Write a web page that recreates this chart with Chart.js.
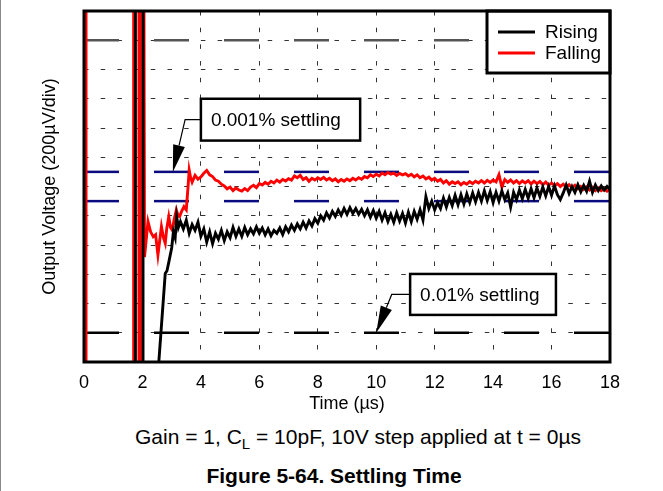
<!DOCTYPE html>
<html>
<head>
<meta charset="utf-8">
<script src="https://cdn.jsdelivr.net/npm/chart.js@4.4.1/dist/chart.umd.min.js"></script>
<style>
  body { margin: 0; background: #fff; }
  #page { position: relative; width: 663px; height: 491px; overflow: hidden; font-family: "Liberation Sans", Arial, sans-serif; color: #000; }
  #edge { position: absolute; left: 0; top: 0; width: 1px; height: 491px; background: #8a8a8a; }
  #chart { position: absolute; left: 0; top: 0; }
  #note { position: absolute; left: 0; width: 716px; top: 424px; text-align: center; font-size: 21px; line-height: 26px; }
  #note sub { font-size: 15px; vertical-align: -5px; line-height: 0; }
  #fig { position: absolute; left: 0; width: 668px; top: 463px; text-align: center; font-size: 21px; font-weight: bold; line-height: 26px; }
</style>
</head>
<body>
<div id="page">
  <div id="edge"></div>
  <canvas id="chart" width="663" height="420"></canvas>
  <div id="note">Gain = 1, C<sub>L</sub> = 10pF, 10V step applied at t = 0µs</div>
  <div id="fig">Figure 5-64. Settling Time</div>
</div>
<script>
// y is in divisions of 200µV, final value sits at 6
const sampleStep = 0.1;

// Rising: swings through the window, then climbs in from below
const risingHeadT = [0, 1.76, 1.76, 2.02, 2.02, 2.55, 2.56, 2.78, 2.84, 2.92, 3.0, 3.06, 3.12, 3.17, 3.23];
const risingHeadV = [-1, -1, 13, 13, -1, -1, 0, 3.03, 3.12, 3.5, 3.9, 4.45, 4.25, 4.97, 4.6];
const risingStart = 3.3;
const risingV = [
    4.80, 4.55, 4.85, 4.40, 4.70, 4.50, 4.78, 4.30, 4.55, 4.10,
    4.45, 4.05, 4.40, 4.20, 4.50, 4.15, 4.45, 4.25, 4.60, 4.30,
    4.55, 4.30, 4.60, 4.35, 4.55, 4.38, 4.62, 4.40, 4.58, 4.35,
    4.55, 4.32, 4.50, 4.40, 4.58, 4.36, 4.62, 4.45, 4.68, 4.50,
    4.72, 4.55, 4.78, 4.58, 4.82, 4.65, 4.90, 4.75, 5.00, 4.85,
    5.10, 4.92, 5.15, 4.98, 5.20, 5.02, 5.25, 5.05, 5.28, 5.08,
    5.25, 5.05, 5.22, 5.00, 5.20, 4.95, 5.18, 4.92, 5.15, 4.85,
    5.10, 4.80, 5.05, 4.78, 5.10, 4.82, 5.08, 4.75, 5.12, 4.80,
    5.15, 4.88, 5.20, 4.85, 5.65, 5.25, 5.50, 5.20, 5.45, 5.25,
    5.60, 5.30, 5.62, 5.35, 5.70, 5.38, 5.72, 5.40, 5.75, 5.45,
    5.78, 5.48, 5.80, 5.50, 5.85, 5.52, 5.82, 5.45, 5.80, 5.50,
    5.85, 5.55, 5.78, 5.30, 5.80, 5.55, 5.88, 5.58, 5.90, 5.60,
    5.92, 5.62, 5.95, 5.66, 5.98, 5.68, 6.00, 5.70, 6.02, 5.72,
    5.55, 5.78, 6.05, 5.76, 6.00, 5.80, 6.06, 5.82, 6.04, 5.84,
    6.18, 5.80, 6.05, 5.86, 6.02, 5.88, 6.00, 5.90
];

// Falling: drops at t=0, rings through the window, then settles from below
const fallingHeadT = [0, 0.07, 0.07, 1.70, 1.70, 1.88, 1.88, 1.93, 1.93, 2.05, 2.07, 2.19, 2.28, 2.37, 2.45, 2.53,
    2.65, 2.72, 2.78, 2.83, 2.90, 2.96, 3.02, 3.09, 3.16, 3.22, 3.27, 3.34, 3.42, 3.46, 3.50, 3.56, 3.60, 3.65];
const fallingHeadV = [13, 13, -1, -1, 13, 13, -1, -1, 13, 13, 3.59, 4.80, 4.45, 4.28, 4.35, 3.66,
    4.63, 4.25, 4.06, 4.55, 4.97, 4.60, 4.51, 4.90, 5.20, 5.00, 4.97, 5.15, 5.31, 5.25, 5.20, 5.99, 6.56, 6.30];
const fallingStart = 3.7;
const fallingV = [
    6.15, 6.38, 6.25, 6.33, 6.45, 6.55, 6.40, 6.34, 6.22, 6.18,
    6.08, 6.02, 5.92, 5.98, 5.86, 5.95, 5.88, 5.84, 5.93, 5.86,
    5.98, 6.04, 5.96, 6.10, 6.05, 6.14, 6.08, 6.18, 6.12, 6.22,
    6.15, 6.24, 6.19, 6.27, 6.22, 6.36, 6.30, 6.38, 6.24, 6.30,
    6.18, 6.28, 6.22, 6.30, 6.24, 6.31, 6.22, 6.28, 6.20, 6.26,
    6.16, 6.24, 6.18, 6.26, 6.20, 6.28, 6.22, 6.30, 6.25, 6.34,
    6.30, 6.40, 6.34, 6.42, 6.36, 6.46, 6.40, 6.48, 6.42, 6.46,
    6.38, 6.45, 6.40, 6.44, 6.36, 6.42, 6.33, 6.40, 6.30, 6.36,
    6.26, 6.32, 6.22, 6.28, 6.18, 6.24, 6.12, 6.20, 6.08, 6.16,
    6.10, 6.16, 6.06, 6.14, 6.08, 6.17, 6.10, 6.18, 6.12, 6.20,
    6.12, 6.21, 6.14, 6.22, 6.16, 6.40, 5.98, 6.24, 6.14, 6.22,
    6.12, 6.20, 6.10, 6.19, 6.12, 6.20, 6.09, 6.18, 6.10, 6.17,
    6.06, 6.15, 6.04, 6.12, 6.02, 6.10, 6.00, 6.08, 5.98, 6.06,
    5.96, 6.04, 5.92, 6.00, 5.90, 5.99, 5.88, 5.97, 5.86, 5.95,
    5.86, 5.92, 5.84, 5.90
];

// settling bands: 0.01% (±5 div) and 0.001% (±0.5 div)
const refLevels = [11, 6.5, 5.5, 1];
const refColors = ['#555555', '#0b0b80', '#0b0b80', '#000000'];

const xMin = 0, xMax = 18, xStep = 2;
const yMin = 0, yMax = 12;

const callouts = [
    {text: '0.001% settling', box: [4.0, 9.0, 9.45, 7.57], elbowX: 3.46, tip: [3.04, 6.5]},
    {text: '0.01% settling', box: [11.16, 3.01, 16.15, 1.61], elbowX: 10.53, tip: [10.0, 1.0]}
];

const FONT = '"Liberation Sans", Arial, sans-serif';

function trace(headT, headV, start, vals) {
    const pts = headT.map((t, i) => ({x: t, y: headV[i]}));
    vals.forEach((v, i) => pts.push({x: +(start + i * sampleStep).toFixed(2), y: v}));
    return pts;
}

const decor = {
    id: 'decor',
    afterDatasetsDraw(chart) {
        const {ctx, chartArea: a, scales: {x, y}} = chart;
        ctx.save();

        // callout boxes with arrows
        callouts.forEach(c => {
            const bl = x.getPixelForValue(c.box[0]), bt = y.getPixelForValue(c.box[1]);
            const br = x.getPixelForValue(c.box[2]), bb = y.getPixelForValue(c.box[3]);
            const mid = (bt + bb) / 2;
            const ex = x.getPixelForValue(c.elbowX);
            const tx = x.getPixelForValue(c.tip[0]), ty = y.getPixelForValue(c.tip[1]);
            const dx = tx - ex, dy = ty - mid, len = Math.hypot(dx, dy);
            const ux = dx / len, uy = dy / len;
            const headLen = 27, half = 6;
            const baseX = tx - ux * headLen, baseY = ty - uy * headLen;

            ctx.strokeStyle = '#000';
            ctx.lineWidth = 1.2;
            ctx.beginPath();
            ctx.moveTo(bl, mid);
            ctx.lineTo(ex, mid);
            ctx.lineTo(baseX, baseY);
            ctx.stroke();

            ctx.fillStyle = '#000';
            ctx.beginPath();
            ctx.moveTo(tx, ty);
            ctx.lineTo(baseX - uy * half, baseY + ux * half);
            ctx.lineTo(baseX + uy * half, baseY - ux * half);
            ctx.closePath();
            ctx.fill();

            ctx.fillStyle = '#fff';
            ctx.fillRect(bl, bt, br - bl, bb - bt);
            ctx.lineWidth = 2.5;
            ctx.strokeRect(bl, bt, br - bl, bb - bt);
            ctx.fillStyle = '#000';
            ctx.font = '19px ' + FONT;
            ctx.textBaseline = 'middle';
            ctx.textAlign = 'left';
            ctx.fillText(c.text, bl + 10, mid + 1);
        });

        // legend in the top right corner
        const lw = 123, lh = 62;
        const lx = a.right - lw, ly = a.top;
        ctx.fillStyle = '#fff';
        ctx.fillRect(lx, ly, lw, lh);
        ctx.lineWidth = 3;
        ctx.strokeStyle = '#000';
        ctx.strokeRect(lx, ly, lw, lh);
        chart.data.datasets.slice(0, 2).forEach((ds, i) => {
            const ry = ly + 21 + i * 21;
            ctx.strokeStyle = ds.borderColor;
            ctx.lineWidth = 3;
            ctx.beginPath();
            ctx.moveTo(lx + 11, ry);
            ctx.lineTo(lx + 48, ry);
            ctx.stroke();
            ctx.fillStyle = '#000';
            ctx.font = '19px ' + FONT;
            ctx.textBaseline = 'middle';
            ctx.fillText(ds.label, lx + 58, ry + 1);
        });

        // plot frame
        ctx.strokeStyle = '#000';
        ctx.lineWidth = 3;
        ctx.strokeRect(a.left, a.top, a.right - a.left, a.bottom - a.top);
        ctx.restore();
    }
};

const datasets = [
    {label: 'Rising', data: trace(risingHeadT, risingHeadV, risingStart, risingV), borderColor: '#000000', borderWidth: 2.9},
    {label: 'Falling', data: trace(fallingHeadT, fallingHeadV, fallingStart, fallingV), borderColor: '#ff0000', borderWidth: 2.9}
];
refLevels.forEach((lvl, i) => {
    datasets.push({
        label: 'ref' + i,
        data: [{x: xMin, y: lvl}, {x: xMax, y: lvl}],
        borderColor: refColors[i],
        borderWidth: 2.5,
        borderDash: [35, 35]
    });
});

new Chart(document.getElementById('chart'), {
    type: 'line',
    data: {datasets: datasets},
    options: {
        responsive: false,
        animation: false,
        devicePixelRatio: 1,
        elements: {point: {radius: 0}, line: {tension: 0}},
        layout: {padding: {top: 11, right: 53, left: 0, bottom: 0}},
        plugins: {legend: {display: false}, tooltip: {enabled: false}},
        scales: {
            x: {
                type: 'linear', min: xMin, max: xMax,
                ticks: {stepSize: xStep, color: '#000', font: {size: 18, family: FONT}, padding: 10, maxRotation: 0},
                grid: {color: '#333', lineWidth: 1, drawTicks: false},
                border: {display: false, dash: [4.5, 12.2]},
                title: {display: true, text: 'Time (µs)', color: '#000', font: {size: 18, family: FONT}, padding: {top: 0, bottom: 5}},
                afterFit(s) { s.height = 58; }
            },
            y: {
                min: yMin, max: yMax,
                ticks: {stepSize: 1, display: false},
                grid: {color: '#333', lineWidth: 1, drawTicks: false},
                border: {display: false, dash: [4.5, 12.2]},
                title: {display: true, text: 'Output Voltage (200µV/div)', color: '#000', font: {size: 18, family: FONT}, padding: {top: 39, bottom: 0}},
                afterFit(s) { s.width = 84; }
            }
        }
    },
    plugins: [decor]
});
</script>
</body>
</html>
